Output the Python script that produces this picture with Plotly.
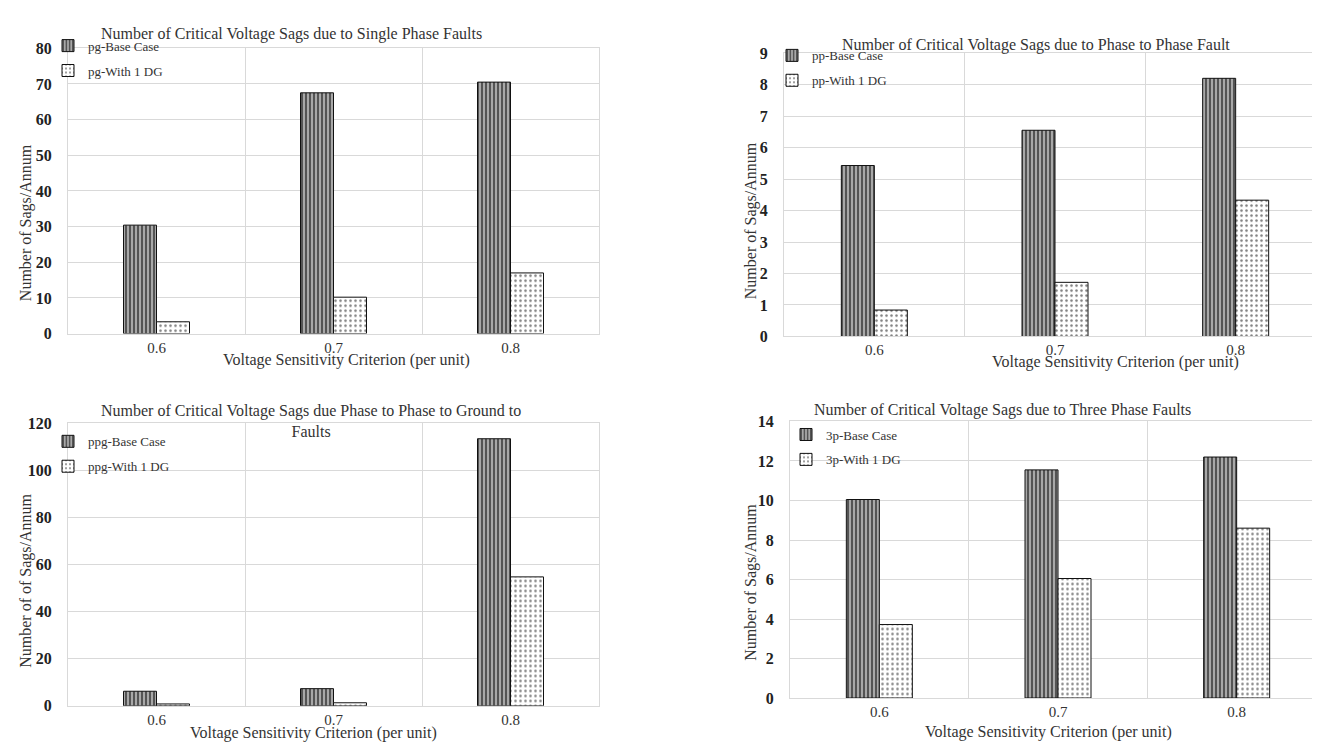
import plotly.graph_objects as go

W, H = 1320, 742

categories = ["0.6", "0.7", "0.8"]

pg_base = [30.4, 67.5, 70.5]
pg_dg = [3.3, 10.2, 17.0]

pp_base = [5.43, 6.55, 8.2]
pp_dg = [0.84, 1.72, 4.33]

ppg_base = [6.2, 7.3, 113.5]
ppg_dg = [0.8, 1.3, 54.8]

tp_base = [10.05, 11.55, 12.2]
tp_dg = [3.72, 6.05, 8.6]

panel_titles = [
    "Number of Critical Voltage Sags due to Single Phase Faults",
    "Number of Critical Voltage Sags due to Phase to Phase Fault",
    "Number of Critical Voltage Sags due Phase to Phase to Ground to<br>Faults",
    "Number of Critical Voltage Sags due to Three Phase Faults",
]
y_titles = ["Number of Sags/Annum", "Number of Sags/Annum",
            "Number of of Sags/Annum", "Number of Sags/Annum"]
x_title = "Voltage Sensitivity Criterion (per unit)"
prefixes = ["pg", "pp", "ppg", "3p"]
y_max = [80, 9, 120, 14]
y_dtick = [10, 1, 20, 2]

FONT = "Liberation Serif, Times New Roman, serif"

# plot-area boxes in pixels: (left, right, top, bottom)
boxes = [(60, 591, 33, 325), (776, 1318, 38, 328),
         (60, 591, 417, 706), (782, 1318, 415, 698)]
legend_pos = [(40, 15), (764, 25), (40, 420), (778, 413)]
title_pos = [(283, 18), (1028, 30), (303, 405), (994, 403)]
ytitle_pos = [(18, 212), (743, 210), (18, 578), (743, 580)]
xtitle_pos = [(338, 352), (1107, 354), (305, 734), (1040, 733)]

def px(x):
    return x / W

def py(y):
    return 1 - y / H

fig = go.Figure()
series = [(pg_base, pg_dg), (pp_base, pp_dg), (ppg_base, ppg_dg), (tp_base, tp_dg)]

layout = dict()
annotations = []
for i, ((base, dg), (l, r, t, b)) in enumerate(zip(series, boxes)):
    n = "" if i == 0 else str(i + 1)
    xa, ya = "x" + n, "y" + n
    leg = "legend" + n
    cat_px = (r - l) / 3
    w = 33 / cat_px
    fig.add_trace(go.Bar(
        x=categories, y=base, name=prefixes[i] + "-Base Case",
        xaxis=xa, yaxis=ya, legend=leg, legendgroup=f"b{i}",
        width=w, offset=-w,
        marker=dict(color="white", line=dict(color="#111", width=1),
                    pattern=dict(shape="|", size=4, solidity=0.5,
                                 fgcolor="#000", bgcolor="#a8a8a8")),
    ))
    fig.add_trace(go.Bar(
        x=categories, y=dg, name=prefixes[i] + "-With 1 DG",
        xaxis=xa, yaxis=ya, legend=leg, legendgroup=f"d{i}",
        width=w, offset=0,
        marker=dict(color="white", line=dict(color="#111", width=1),
                    pattern=dict(shape=".", size=5, solidity=0.2,
                                 fgcolor="#000", bgcolor="white")),
    ))
    layout["xaxis" + n] = dict(
        domain=[px(l), px(r)], anchor=ya, type="category",
        range=[-0.5, 2.5], tickson="boundaries", ticks="",
        showgrid=True, gridcolor="#d9d9d9", gridwidth=1,
        showline=True, linecolor="#d9d9d9", mirror=True,
        tickfont=dict(family=FONT, size=15, color="#333"),
        fixedrange=True,
    )
    layout["yaxis" + n] = dict(
        domain=[py(b), py(t)], anchor=xa, range=[0, y_max[i]],
        dtick=y_dtick[i], showgrid=True, gridcolor="#d9d9d9", gridwidth=1,
        zeroline=False, showline=True, linecolor="#d9d9d9", mirror=True,
        tickfont=dict(family=FONT, size=16, color="#222", weight="bold"),
        ticklabelstandoff=12,
    )
    lx, ly = legend_pos[i]
    layout[leg] = dict(
        x=px(lx), y=py(ly), xanchor="left", yanchor="top",
        bgcolor="rgba(0,0,0,0)", tracegroupgap=5,
        font=dict(family=FONT, size=13, color="#333"),
        traceorder="grouped", itemwidth=30,
    )
    cx, ty = title_pos[i]
    annotations.append(dict(
        text=panel_titles[i], x=px(cx), y=py(ty), xref="paper", yref="paper",
        showarrow=False, xanchor="center", yanchor="middle",
        font=dict(family=FONT, size=16, color="#333"), align="center",
        yshift=-9 if i == 2 else 0,
    ))
    ytx, yty = ytitle_pos[i]
    annotations.append(dict(
        text=y_titles[i], x=px(ytx), y=py(yty), xref="paper", yref="paper",
        showarrow=False, textangle=-90, xanchor="center", yanchor="middle",
        font=dict(family=FONT, size=16, color="#333"),
    ))
    xtx, xty = xtitle_pos[i]
    annotations.append(dict(
        text=x_title, x=px(xtx), y=py(xty), xref="paper", yref="paper",
        showarrow=False, xanchor="center", yanchor="middle",
        font=dict(family=FONT, size=16, color="#333"),
    ))

fig.update_layout(
    width=W, height=H, margin=dict(l=0, r=0, t=0, b=0),
    paper_bgcolor="white", plot_bgcolor="white",
    barmode="overlay", showlegend=True,
    annotations=annotations, **layout,
)

fig.write_html("out.html")
